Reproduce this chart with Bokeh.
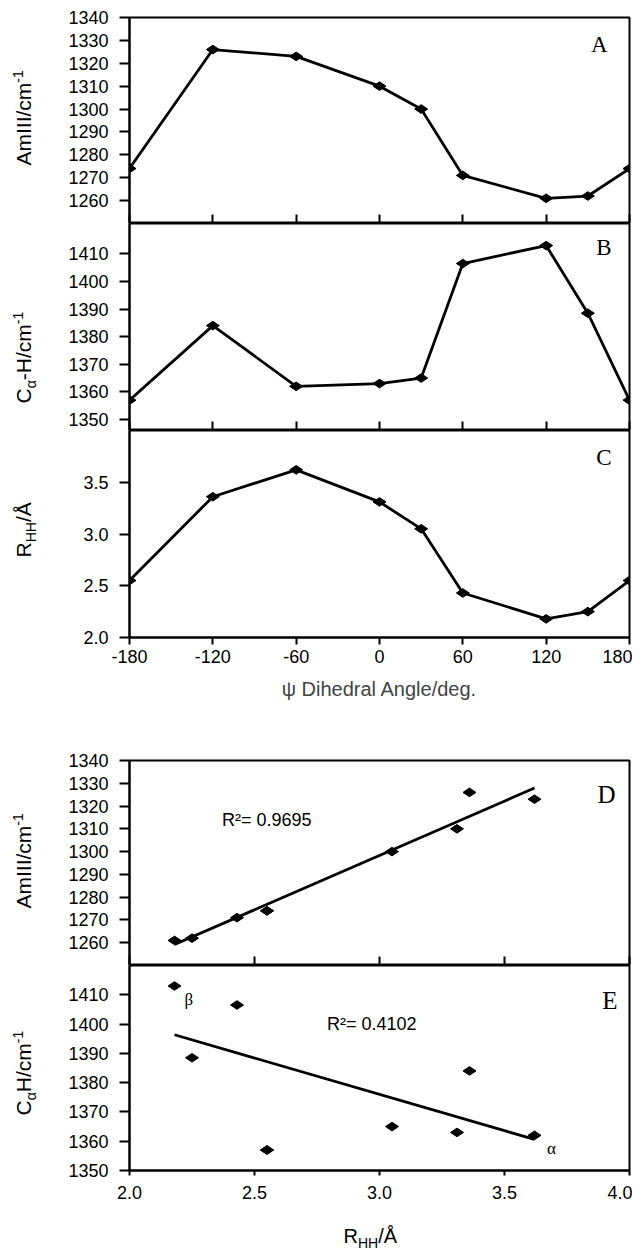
import numpy as np
from math import pi
from bokeh.plotting import figure
from bokeh.layouts import column, row
from bokeh.models import Range1d, FixedTicker, Label, NumeralTickFormatter
from bokeh.embed import file_html
from bokeh.resources import INLINE

# ---------------- data ----------------
psi_deg = [-180, -120, -60, 0, 30, 60, 120, 150, 180]
amide3 = [1274, 1326, 1323, 1310, 1300, 1271, 1261, 1262, 1274]
ca_h = [1357, 1384, 1362, 1363, 1365, 1406.5, 1413, 1388.5, 1357]
r_hh = [2.55, 3.36, 3.62, 3.31, 3.05, 2.43, 2.18, 2.25, 2.55]

psi_ticks = [-180, -120, -60, 0, 60, 120, 180]
psi_tick_labels = ["-180", "-120", "-60", "0", "60", "120", "180"]
amide_ticks = [1260, 1270, 1280, 1290, 1300, 1310, 1320, 1330, 1340]
cah_ticks = [1350, 1360, 1370, 1380, 1390, 1400, 1410]
rhh_ticks = [2.0, 2.5, 3.0, 3.5]
rhh_x_ticks = [2.0, 2.5, 3.0, 3.5, 4.0]
panel_letters = ["A", "B", "C", "D", "E"]
r2_d_text = "R\u00b2= 0.9695"
r2_e_text = "R\u00b2= 0.4102"
psi_axis_title = "\u03c8 Dihedral Angle/deg."

SANS = "Liberation Sans"
SERIF = "Liberation Serif"
TICK_FS = "18px"
STRIP_W = 56
FRAME_W = 500
BORDER_L = 129 - STRIP_W
BORDER_R = 3
PAGE_H = 1251
BASE_SHIFT = 0.34  # Bokeh draws "alphabetic" text about a third of an em lower

# approximate advance widths (em) for Liberation Sans
W = {'A': .667, 'm': .833, 'I': .278, '/': .278, 'c': .5, 'C': .722, 'H': .722,
     '-': .333, 'R': .722, '\u00c5': .667, '1': .556, '\u03b1': .579}


def text_width(t, size):
    return sum(W.get(ch, .556) for ch in t) * size


def mk(xr, yr, fh, bt, bb):
    p = figure(frame_width=FRAME_W, frame_height=fh, x_range=xr, y_range=yr,
               min_border_left=BORDER_L, min_border_right=BORDER_R, min_border_top=bt,
               min_border_bottom=bb, output_backend="svg", toolbar_location=None,
               tools="", background_fill_color="white", border_fill_color="white")
    p.grid.visible = False
    p.outline_line_color = "black"
    p.outline_line_width = 2
    for ax in (p.xaxis, p.yaxis):
        ax.axis_line_width = 2
        ax.major_tick_line_width = 2
        ax.minor_tick_line_color = None
        ax.major_label_text_font = SANS
        ax.major_label_text_font_size = TICK_FS
        ax.major_label_text_color = "black"
    p.yaxis.major_tick_out = 10
    p.yaxis.major_tick_in = 0
    p.yaxis.major_label_standoff = 11
    return p


def inner_x_ticks(p, ticks):
    p.xaxis.ticker = FixedTicker(ticks=ticks)
    p.xaxis.major_tick_out = 0
    p.xaxis.major_tick_in = 9
    p.xaxis.major_label_text_font_size = "0px"
    p.xaxis.major_label_text_color = None
    p.xaxis.major_label_text_alpha = 0
    p.xaxis.major_label_standoff = 0


def letter(p, t, x, y, size):
    p.add_layout(Label(x=x, y=y + BASE_SHIFT * size, x_units="screen", y_units="screen",
                       text=t, text_align="right", text_baseline="alphabetic",
                       text_font=SERIF, text_font_size=f"{size}px",
                       text_color="black"))


def series(p, xs, ys):
    p.line(xs, ys, line_color="black", line_width=2.8)
    p.scatter(xs, ys, marker="diamond", size=13, angle=pi / 2,
              fill_color="black", line_color="black")


# ---------------- A ----------------
pA = mk(Range1d(-180, 180), Range1d(1250, 1340), 206, 17, 0)
pA.yaxis.ticker = FixedTicker(ticks=amide_ticks)
inner_x_ticks(pA, psi_ticks)
series(pA, psi_deg, amide3)
letter(pA, panel_letters[0], 478, 171, 23)

# ---------------- B ----------------
pB = mk(Range1d(-180, 180), Range1d(1346, 1421), 207, 0, 0)
pB.yaxis.ticker = FixedTicker(ticks=cah_ticks)
inner_x_ticks(pB, psi_ticks)
series(pB, psi_deg, ca_h)
letter(pB, panel_letters[1], 482, 175, 23)

# ---------------- C ----------------
pC = mk(Range1d(-180, 180), Range1d(2.0, 4.0), 207, 0, 80)
pC.yaxis.ticker = FixedTicker(ticks=rhh_ticks)
pC.yaxis.formatter = NumeralTickFormatter(format="0.0")
pC.xaxis.ticker = FixedTicker(ticks=psi_ticks)
pC.xaxis.major_label_overrides = dict(zip(psi_ticks, psi_tick_labels))
pC.xaxis.major_tick_out = 7
pC.xaxis.major_tick_in = 0
pC.xaxis.major_label_standoff = 5
pC.xaxis.axis_label = psi_axis_title
pC.xaxis.axis_label_text_font = SANS
pC.xaxis.axis_label_text_font_size = "20px"
pC.xaxis.axis_label_text_font_style = "normal"
pC.xaxis.axis_label_standoff = 12
series(pC, psi_deg, r_hh)
letter(pC, panel_letters[2], 482, 172, 23)

# ---------------- D ----------------
ux = np.array(r_hh[:-1])
xl = [ux.min(), ux.max()]
pD = mk(Range1d(2.0, 4.0), Range1d(1250, 1340), 205, 43, 0)
pD.yaxis.ticker = FixedTicker(ticks=amide_ticks)
inner_x_ticks(pD, rhh_x_ticks)
pD.scatter(r_hh, amide3, marker="diamond", size=13, angle=pi / 2,
           fill_color="black", line_color="black")
fit_d = np.polyfit(ux, np.array(amide3[:-1]), 1)
pD.line(xl, np.polyval(fit_d, xl), line_color="black", line_width=2.8)
pD.add_layout(Label(x=2.37, y=1314, text=r2_d_text, text_font=SANS,
                    text_font_size="18px", text_baseline="middle", text_color="black"))
letter(pD, panel_letters[3], 486, 163, 25)

# ---------------- E ----------------
pE = mk(Range1d(2.0, 4.0), Range1d(1350, 1420), 205, 0, 38)
pE.yaxis.ticker = FixedTicker(ticks=cah_ticks)
pE.xaxis.ticker = FixedTicker(ticks=rhh_x_ticks)
pE.xaxis.formatter = NumeralTickFormatter(format="0.0")
pE.xaxis.major_tick_out = 5
pE.xaxis.major_tick_in = 0
pE.xaxis.major_label_standoff = 10
pE.scatter(r_hh, ca_h, marker="diamond", size=13, angle=pi / 2,
           fill_color="black", line_color="black")
fit_e = np.polyfit(ux, np.array(ca_h[:-1]), 1)
pE.line(xl, np.polyval(fit_e, xl), line_color="black", line_width=2.8)
pE.add_layout(Label(x=2.79, y=1400, text=r2_e_text, text_font=SANS,
                    text_font_size="18px", text_baseline="middle", text_color="black"))
pE.add_layout(Label(x=2.22, y=1408.5, text="\u03b2", text_font=SERIF,
                    text_font_size="17px", text_baseline="middle", text_color="black"))
pE.add_layout(Label(x=3.67, y=1357.5, text="\u03b1", text_font=SERIF,
                    text_font_size="17px", text_baseline="middle", text_color="black"))
letter(pE, panel_letters[4], 488, 162, 25)

# ---------------- left strip with the rotated y-axis titles ----------------
strip = figure(width=STRIP_W, height=PAGE_H, x_range=Range1d(0, STRIP_W),
               y_range=Range1d(PAGE_H, 0), min_border=0, output_backend="svg",
               toolbar_location=None, tools="", x_axis_location=None,
               y_axis_location=None, background_fill_color="white",
               border_fill_color="white")
strip.grid.visible = False
strip.outline_line_color = None


def v_label(p, pieces, x0, y0):
    pos = y0
    for t, size, shift in pieces:
        p.add_layout(Label(x=x0 + shift - BASE_SHIFT * size, y=pos, text=t, angle=pi / 2,
                           text_align="left", text_baseline="alphabetic",
                           text_font=SANS, text_font_size=f"{size}px",
                           text_color="black"))
        pos -= text_width(t, size)


amide_label = [("AmIII/cm", 21, 0), ("-1", 14, -8)]
v_label(strip, amide_label, 30, 165)
v_label(strip, [("C", 21, 0), ("\u03b1", 14, 5), ("-H/cm", 21, 0), ("-1", 14, -8)], 30, 403)
v_label(strip, [("R", 21, 0), ("HH", 14, 5), ("/\u00c5", 21, 0)], 30, 557)
v_label(strip, amide_label, 30, 908)
v_label(strip, [("C", 21, 0), ("\u03b1", 14, 5), ("H/cm", 21, 0), ("-1", 14, -8)], 30, 1115)

# ---------------- bottom strip with the R_HH axis title ----------------
bottom_top = 17 + 206 + 207 + 207 + 80 + 43 + 205 + 205 + 38
bstrip = figure(frame_width=FRAME_W, frame_height=PAGE_H - bottom_top,
                x_range=Range1d(2.0, 4.0), y_range=Range1d(PAGE_H, bottom_top),
                min_border_left=BORDER_L, min_border_right=BORDER_R,
                min_border_top=0, min_border_bottom=0, output_backend="svg",
                toolbar_location=None, tools="", x_axis_location=None,
                y_axis_location=None, background_fill_color="white",
                border_fill_color="white")
bstrip.grid.visible = False
bstrip.outline_line_color = None
pos = 343 - 129
for t, size, dy in [("R", 20, 0), ("HH", 14, 5), ("/\u00c5", 20, 0)]:
    bstrip.add_layout(Label(x=pos, x_units="screen", y=1242 + dy - BASE_SHIFT * size,
                            text=t, text_align="left", text_baseline="alphabetic",
                            text_font=SANS, text_font_size=f"{size}px",
                            text_color="black"))
    pos += text_width(t, size)

lay = row(strip, column(pA, pB, pC, pD, pE, bstrip, spacing=0), spacing=0)
open("out.html", "w").write(file_html(lay, INLINE))
